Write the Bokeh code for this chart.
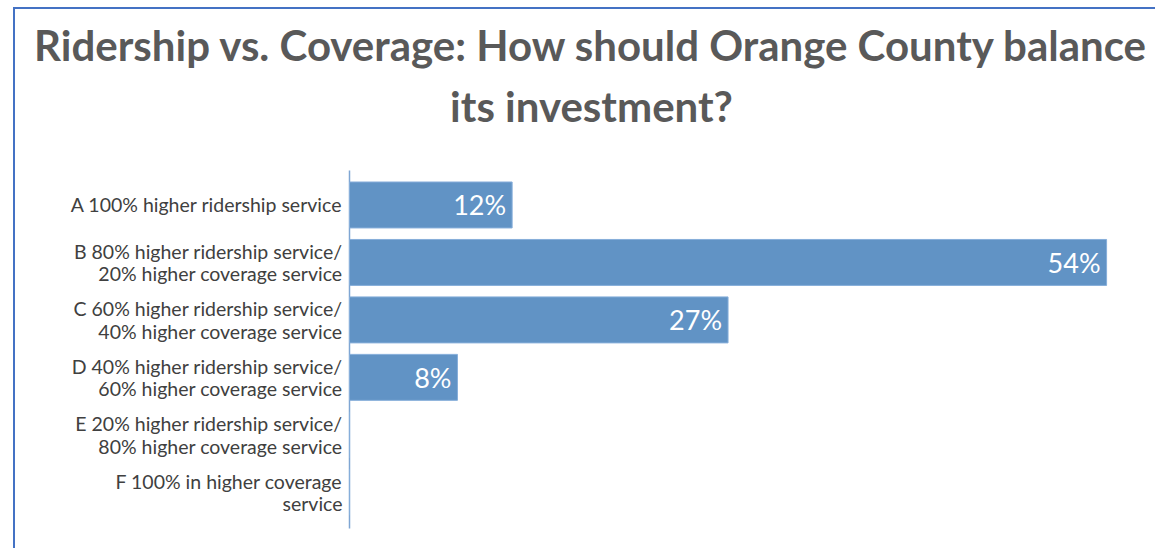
from bokeh.plotting import figure
from bokeh.models import Range1d, ColumnDataSource
from bokeh.core.properties import value
from bokeh.embed import file_html
from bokeh.resources import INLINE

title_lines = ["Ridership vs. Coverage: How should Orange County balance", "its investment?"]
categories = [
    "A 100% higher ridership service",
    "B 80% higher ridership service/\n20% higher coverage service",
    "C 60% higher ridership service/\n40% higher coverage service",
    "D 40% higher ridership service/\n60% higher coverage service",
    "E 20% higher ridership service/\n80% higher coverage service",
    "F 100% in higher coverage\nservice",
]
shares = [11.6, 54.0, 27.0, 7.7, 0.0, 0.0]
labels = ["12%", "54%", "27%", "8%", "", ""]

# layout (canvas pixels): canvas is 1142 x 541
W, H = 1142, 541
AX_X = 334            # x pixel of the value axis (x = 0)
PX_PER_PCT = 14.02
CAT_TOP, CAT_BOT = 161, 519   # pixel extent of the category axis line
Y_TOP, Y_BOT = -0.6, 5.63     # category-range values at those pixels
px_per_cat = (CAT_BOT - CAT_TOP) / (Y_BOT - Y_TOP)

def xdata(px):
    return (px - AX_X) / PX_PER_PCT

def ydata(py):
    return Y_TOP + (py - CAT_TOP) / px_per_cat

idx = list(range(len(categories)))
src = ColumnDataSource(dict(y=idx, x=shares, lab=labels, cat=categories,
                            zero=[0] * len(idx)))

p = figure(width=W, height=H, output_backend="svg", toolbar_location=None,
           x_range=Range1d(xdata(0), xdata(W)), y_range=Range1d(ydata(H), ydata(0)),
           min_border=0, title=None)
p.margin = (7, 0, 0, 13)
p.styles = {"border-left": "2px solid #4472C4", "border-top": "2px solid #4472C4"}

# title (two centered lines)
p.text(x=[xdata(576)] * 2, y=[ydata(35), ydata(96)], text=title_lines,
       text_align="center", text_baseline="middle", text_font=value("Lato"),
       text_font_style="bold", text_font_size="42px", text_color="#595959")

# category axis line
p.segment(x0=[0], y0=[Y_TOP], x1=[0], y1=[Y_BOT], line_color="#7FA6D3", line_width=1.5)

p.hbar(y="y", right="x", left=0, height=0.8, source=src, fill_color="#6193C5",
       line_color="#86AEDA", line_width=1)
p.text(x="x", y="y", text="lab", source=src, x_offset=-6, text_align="right",
       text_baseline="middle", text_color="white", text_font=value("Lato"),
       text_font_size="27px")

p.text(x="zero", y="y", text="cat", source=src, x_offset=-7, text_align="right",
       text_baseline="middle", text_line_height=0.98, text_font=value("Lato"),
       text_font_size="19.5px", text_color="#404040")

p.axis.visible = False
p.grid.visible = False
p.outline_line_color = None

open("out.html", "w").write(file_html(p, INLINE))
